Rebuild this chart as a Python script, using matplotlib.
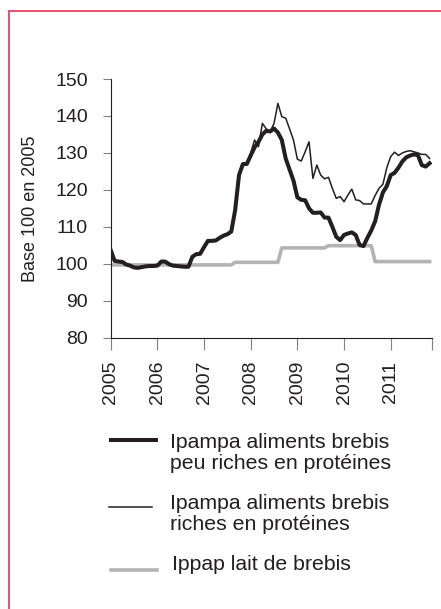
import matplotlib
matplotlib.use("Agg")
import matplotlib.pyplot as plt
from matplotlib.lines import Line2D

plt.rcParams['font.family'] = ['Liberation Sans', 'DejaVu Sans']

years = ['2005', '2006', '2007', '2008', '2009', '2010', '2011']

# Monthly values, Jan 2005 -> Nov 2011
peu_riches = [
    103.7, 100.8, 100.6, 100.5, 99.8, 99.5, 99.0, 98.9, 99.1, 99.3, 99.4, 99.4,
    99.5, 100.6, 100.6, 99.9, 99.5, 99.4, 99.3, 99.2, 99.2, 101.9, 102.6, 102.7,
    104.5, 106.2, 106.2, 106.3, 107.0, 107.6, 108.0, 108.7, 114.5, 124.0, 127.0, 127.0,
    129.3, 131.5, 133.0, 135.0, 136.0, 135.8, 136.6, 135.5, 133.5, 128.5, 125.5, 122.5,
    118.0, 117.3, 117.2, 115.0, 113.8, 113.8, 113.9, 112.5, 112.5, 110.0, 107.3, 106.4,
    107.8, 108.2, 108.5, 107.8, 105.1, 104.8, 107.0, 109.0, 111.5, 116.0, 119.3, 121.0,
    124.0, 124.6, 126.0, 127.7, 128.8, 129.3, 129.6, 129.4, 126.7, 126.3, 127.2,
]

riches = [
    103.7, 100.8, 100.6, 100.5, 99.8, 99.5, 99.0, 98.9, 99.1, 99.3, 99.4, 99.4,
    99.5, 100.6, 100.6, 99.9, 99.5, 99.4, 99.3, 99.2, 99.2, 101.9, 102.6, 102.7,
    104.5, 106.2, 106.2, 106.3, 107.0, 107.6, 108.0, 108.7, 114.5, 124.0, 127.0, 127.2,
    130.0, 133.5, 131.7, 138.0, 136.5, 135.7, 138.0, 143.4, 139.8, 139.4, 136.5, 133.5,
    128.3, 127.8, 130.3, 133.0, 123.1, 126.7, 124.0, 123.0, 123.4, 120.4, 117.7, 118.2,
    116.8, 118.6, 120.2, 117.3, 117.1, 116.2, 116.2, 116.2, 118.5, 120.4, 121.5, 126.0,
    129.0, 130.2, 129.3, 130.0, 130.4, 130.6, 130.3, 130.0, 129.6, 129.6, 128.5,
]

lait = (
    [99.7] * 32 +
    [100.4] * 12 +
    [104.3] * 12 +
    [104.9] * 12 +
    [100.6] * 15
)

labels = [
    "Ipampa aliments brebis\npeu riches en protéines",
    "Ipampa aliments brebis\nriches en protéines",
    "Ippap lait de brebis",
]

W, H = 441, 609
fig = plt.figure(figsize=(W / 100, H / 100), dpi=100)
ax = fig.add_axes([110.7 / W, (H - 337.7) / H, 321.6 / W, 258.7 / H])

x = list(range(len(peu_riches)))
ax.plot(x, lait, color='#b3b3b3', lw=2.6, solid_joinstyle='round', zorder=2)
ax.plot(x, riches, color='#231f20', lw=1.1, zorder=3)
ax.plot(x, peu_riches, color='#231f20', lw=2.9, solid_joinstyle='round', zorder=4)

ax.set_ylim(80, 150)
ax.set_xlim(0, 82.7)
ax.set_yticks([80, 90, 100, 110, 120, 130, 140, 150])
ax.set_xticks([0, 12, 24, 36, 48, 60, 72, 82.7])
ax.set_xticklabels(years + [''], rotation=90)

for s in ['top', 'right']:
    ax.spines[s].set_visible(False)
for s in ['left', 'bottom']:
    ax.spines[s].set_color('#231f20')
    ax.spines[s].set_linewidth(0.8)

ax.tick_params(axis='y', length=6, width=0.8, color='#808080', pad=10.5,
               labelsize=14, labelcolor='#231f20')
ax.tick_params(axis='x', length=8.5, width=0.8, color='#808080', pad=8,
               labelsize=14, labelcolor='#231f20')

ax.set_ylabel('Base 100 en 2005', fontsize=13, color='#231f20')
ax.yaxis.set_label_coords(-0.222, 0.5)

# Legend drawn manually below the axes
def fx(px):
    return px / W

def fy(py):
    return 1 - py / H

entries = [
    (440, 110.7, 156, 2.9, '#231f20', 170, 453.4, labels[0]),
    (506.5, 108.7, 152, 1.1, '#231f20', 170, 514.2, labels[1]),
    (570, 111, 157, 2.6, '#b3b3b3', 172.5, 565, labels[2]),
]
for hy, x0, x1, lw, col, tx, ty, lab in entries:
    fig.add_artist(Line2D([fx(x0), fx(x1)], [fy(hy), fy(hy)], color=col, lw=lw,
                          transform=fig.transFigure))
    fig.text(fx(tx), fy(ty), lab, fontsize=15.3, color='#231f20', va='center',
             ha='left', linespacing=1.13)

# Red frame (left and top edges)
frame_col = '#e8506a'
fig.add_artist(Line2D([fx(9), fx(9)], [fy(11), 0], color=frame_col, lw=1.4,
                      transform=fig.transFigure))
fig.add_artist(Line2D([fx(9), 1], [fy(11), fy(11)], color=frame_col, lw=1.4,
                      transform=fig.transFigure))

fig.savefig('out.png', dpi=100)
